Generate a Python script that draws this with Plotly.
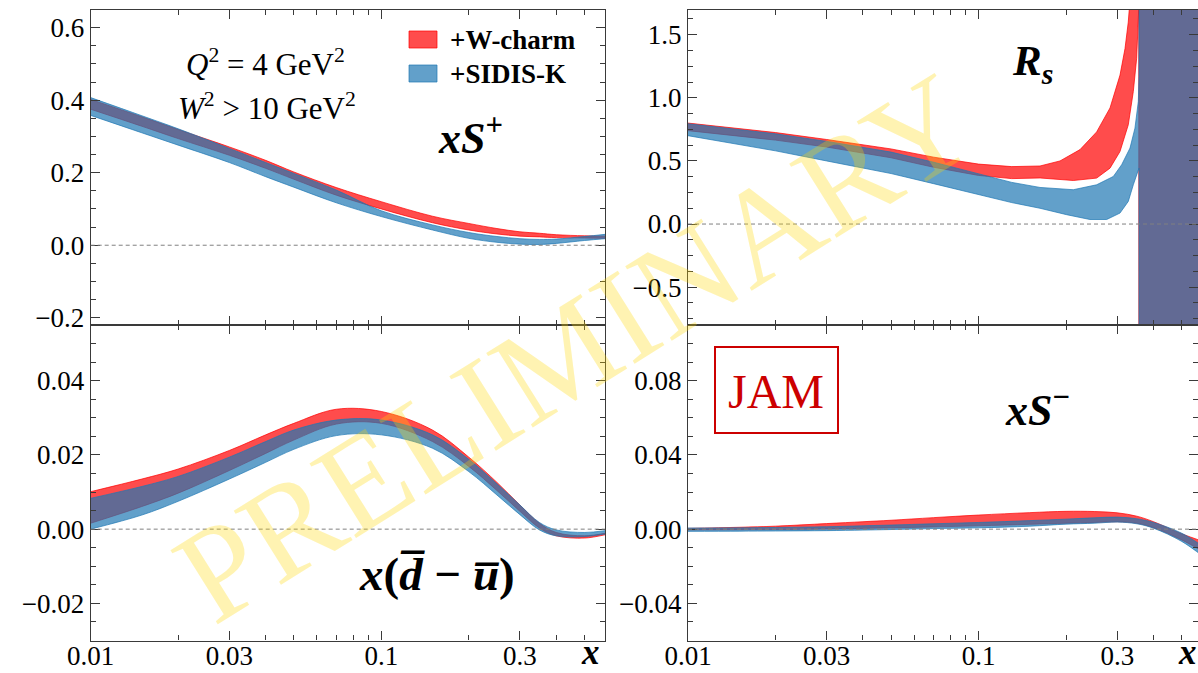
import plotly.graph_objects as go

W, H = 1198, 673

# ---------------- data ----------------
# common x grid for the smooth bands
x_grid = [0.01, 0.015, 0.02, 0.03, 0.04, 0.05, 0.07, 0.1, 0.15, 0.2,
          0.25, 0.3, 0.35, 0.4, 0.5, 0.59]

# x S+  (upper / lower edges of each band)
splus_wc_hi = [0.402, 0.354, 0.319, 0.271, 0.234, 0.202, 0.159, 0.120, 0.080, 0.060,
               0.046, 0.037, 0.033, 0.029, 0.026, 0.025]
splus_wc_lo = [0.375, 0.328, 0.294, 0.248, 0.212, 0.182, 0.138, 0.100, 0.062, 0.042,
               0.031, 0.025, 0.023, 0.021, 0.020, 0.019]
splus_k_hi = [0.407, 0.357, 0.321, 0.267, 0.228, 0.198, 0.152, 0.095, 0.056, 0.035,
              0.024, 0.018, 0.016, 0.017, 0.024, 0.030]
splus_k_lo = [0.358, 0.310, 0.276, 0.228, 0.189, 0.160, 0.117, 0.079, 0.042, 0.019,
              0.008, 0.003, 0.002, 0.005, 0.013, 0.018]

# x(dbar - ubar)
dbu_wc_hi = [0.0101, 0.0135, 0.0162, 0.0212, 0.0254, 0.0285, 0.0323, 0.0317, 0.0267, 0.0194,
             0.0126, 0.0065, 0.0016, -0.0009, -0.0018, -0.0011]
dbu_wc_lo = [0.0016, 0.0061, 0.0097, 0.0158, 0.0204, 0.0240, 0.0283, 0.0285, 0.0236, 0.0169,
             0.0104, 0.0048, 0.0003, -0.0018, -0.0024, -0.0015]
dbu_k_hi = [0.0083, 0.0115, 0.0142, 0.0194, 0.0236, 0.0267, 0.0294, 0.0294, 0.0254, 0.0188,
            0.0122, 0.0065, 0.0018, -0.0002, -0.0009, -0.0004]
dbu_k_lo = [0.0000, 0.0038, 0.0075, 0.0135, 0.0180, 0.0215, 0.0252, 0.0254, 0.0218, 0.0155,
            0.0092, 0.0039, -0.0002, -0.0018, -0.0020, -0.0013]

# x S-
sminus_wc_hi = [0.0004, 0.0010, 0.0016, 0.0030, 0.0040, 0.0048, 0.0062, 0.0076, 0.0089, 0.0096,
                0.0095, 0.0088, 0.0070, 0.0040, -0.0025, -0.0065]
sminus_wc_lo = [-0.0004, -0.0003, -0.0002, 0.0001, 0.0004, 0.0007, 0.0012, 0.0018, 0.0026, 0.0032,
                0.0036, 0.0040, 0.0032, 0.0008, -0.0058, -0.0120]
sminus_k_hi = [0.0006, 0.0007, 0.0009, 0.0013, 0.0018, 0.0022, 0.0029, 0.0036, 0.0046, 0.0054,
               0.0061, 0.0065, 0.0056, 0.0036, -0.0022, -0.0092]
sminus_k_lo = [-0.0012, -0.0011, -0.0010, -0.0008, -0.0005, -0.0002, 0.0003, 0.0007, 0.0016, 0.0027,
               0.0032, 0.0038, 0.0029, 0.0005, -0.0066, -0.0145]

# R_s : the ratio blows up near x ~ 0.355, so each edge carries its own x points
rs_wc_hi_x = [0.01, 0.02, 0.03, 0.05, 0.07, 0.1, 0.13, 0.1627, 0.1906, 0.2234, 0.2548, 0.2833,
              0.3066, 0.319, 0.3274, 0.3301, 0.335, 0.6]
rs_wc_hi = [0.80, 0.725, 0.67, 0.595, 0.53, 0.475, 0.455, 0.46, 0.50, 0.59, 0.73, 0.92,
            1.18, 1.39, 1.60, 1.70, 1.9, 1.9]
rs_wc_lo_x = [0.01, 0.02, 0.03, 0.05, 0.07, 0.1, 0.13, 0.1627, 0.2118, 0.2548, 0.2833, 0.3066,
              0.3274, 0.3407, 0.3499, 0.3535, 0.3558, 0.3560, 0.6]
rs_wc_lo = [0.74, 0.665, 0.61, 0.525, 0.45, 0.385, 0.36, 0.365, 0.345, 0.364, 0.443, 0.575,
            0.786, 1.05, 1.314, 1.55, 1.72, -1.0, -1.0]
rs_k_hi_x = [0.01, 0.02, 0.03, 0.05, 0.07, 0.1, 0.13, 0.1627, 0.2118, 0.2548, 0.2908, 0.3107,
             0.3319, 0.3452, 0.3545, 0.3564, 0.3566, 0.6]
rs_k_hi = [0.795, 0.715, 0.655, 0.57, 0.49, 0.395, 0.33, 0.29, 0.272, 0.311, 0.377, 0.470,
           0.602, 0.760, 0.971, 1.17, 1.9, 1.9]
rs_k_lo_x = [0.01, 0.02, 0.03, 0.05, 0.07, 0.1, 0.13, 0.1627, 0.201, 0.2416, 0.2759, 0.3066,
             0.3274, 0.3407, 0.3564, 0.3566, 0.6]
rs_k_lo = [0.70, 0.58, 0.50, 0.40, 0.32, 0.235, 0.17, 0.125, 0.074, 0.036, 0.036, 0.087,
           0.179, 0.311, 0.443, -1.0, -1.0]

# axis ticks
x_major = [0.01, 0.03, 0.1, 0.3]
x_major_text = ['0.01', '0.03', '0.1', '0.3']
x_minor = [0.02, 0.04, 0.05, 0.06, 0.07, 0.08, 0.09, 0.2, 0.4, 0.5]

series_names = ['+W-charm', '+SIDIS-K']

# ---------------- styling ----------------
RED = 'rgba(255,0,0,0.7)'
BLUE = 'rgba(31,119,180,0.7)'
AX = '#3a3a3a'
SERIF = 'Liberation Serif'


def fx(px):
    return px / W


def fy(py):
    return 1 - py / H


fig = go.Figure()


def band(xa, lo, hi, color, xref, yref, xlo=None, smooth=True):
    shape = 'spline' if smooth else 'linear'
    fig.add_trace(go.Scatter(x=xlo if xlo is not None else xa, y=lo, mode='lines',
                             line=dict(color=color, width=1, shape=shape),
                             xaxis=xref, yaxis=yref, showlegend=False, hoverinfo='skip'))
    fig.add_trace(go.Scatter(x=xa, y=hi, mode='lines', fill='tonexty', fillcolor=color,
                             line=dict(color=color, width=1, shape=shape),
                             xaxis=xref, yaxis=yref, showlegend=False, hoverinfo='skip'))


# top-left: xS+
band(x_grid, splus_wc_lo, splus_wc_hi, RED, 'x', 'y')
band(x_grid, splus_k_lo, splus_k_hi, BLUE, 'x', 'y')
# top-right: R_s
band(rs_wc_hi_x, rs_wc_lo, rs_wc_hi, RED, 'x2', 'y2', xlo=rs_wc_lo_x, smooth=False)
band(rs_k_hi_x, rs_k_lo, rs_k_hi, BLUE, 'x2', 'y2', xlo=rs_k_lo_x, smooth=False)
# bottom-left: x(dbar-ubar)
band(x_grid, dbu_wc_lo, dbu_wc_hi, RED, 'x3', 'y3')
band(x_grid, dbu_k_lo, dbu_k_hi, BLUE, 'x3', 'y3')
# bottom-right: xS-
band(x_grid, sminus_wc_lo, sminus_wc_hi, RED, 'x4', 'y4')
band(x_grid, sminus_k_lo, sminus_k_hi, BLUE, 'x4', 'y4')

tickfont = dict(family=SERIF, size=27, color='black')

LEFT_DOM = [fx(90.7), fx(605)]
RIGHT_DOM = [fx(688), 1.0]
TOP_DOM = [fy(325), fy(9.5)]
BOT_DOM = [fy(640.5), fy(325)]
DEC = 290.6  # pixels per decade


def xaxis(dom, anchor, labels, right_px):
    return dict(domain=dom, anchor=anchor, type='log', automargin=False,
                range=[-2, -2 + right_px / DEC],
                tickmode='array', tickvals=x_major, ticktext=x_major_text,
                showticklabels=labels, tickfont=tickfont, ticklabelstandoff=-9,
                ticks='inside', ticklen=9, tickwidth=1.2, tickcolor=AX,
                showline=True, linecolor=AX, linewidth=1.3, mirror='ticks',
                showgrid=False, zeroline=False,
                minor=dict(tickmode='array', tickvals=x_minor, ticks='inside',
                           ticklen=5, tickwidth=1, tickcolor=AX, showgrid=False))


def yaxis(dom, anchor, rng, vals, texts, mdt):
    return dict(domain=dom, anchor=anchor, range=rng, automargin=False,
                tickmode='array', tickvals=vals, ticktext=texts, tickfont=tickfont,
                ticks='inside', ticklen=9, tickwidth=1.2, tickcolor=AX,
                showline=True, linecolor=AX, linewidth=1.3, mirror='ticks',
                showgrid=False, zeroline=False,
                minor=dict(tick0=0, dtick=mdt, ticks='inside', ticklen=5, tickwidth=1,
                           tickcolor=AX, showgrid=False))


fig.update_layout(
    width=W, height=H, autosize=False,
    margin=dict(l=0, r=0, t=0, b=0, pad=0),
    font=dict(family=SERIF, color='black'),
    paper_bgcolor='white', plot_bgcolor='white',
    xaxis=xaxis(LEFT_DOM, 'y', False, 605 - 90.7),
    yaxis=yaxis(TOP_DOM, 'x', [-0.22, 0.65], [-0.2, 0, 0.2, 0.4, 0.6],
                ['\u22120.2', '0.0', '0.2', '0.4', '0.6'], 0.05),
    xaxis2=xaxis(RIGHT_DOM, 'y2', False, W - 688),
    yaxis2=yaxis(TOP_DOM, 'x2', [-0.8, 1.7], [-0.5, 0, 0.5, 1.0, 1.5],
                 ['\u22120.5', '0.0', '0.5', '1.0', '1.5'], 0.125),
    xaxis3=xaxis(LEFT_DOM, 'y3', True, 605 - 90.7),
    yaxis3=yaxis(BOT_DOM, 'x3', [-0.03, 0.055], [-0.02, 0, 0.02, 0.04],
                 ['\u22120.02', '0.00', '0.02', '0.04'], 0.005),
    xaxis4=xaxis(RIGHT_DOM, 'y4', True, W - 688),
    yaxis4=yaxis(BOT_DOM, 'x4', [-0.06, 0.11], [-0.04, 0, 0.04, 0.08],
                 ['\u22120.04', '0.00', '0.04', '0.08'], 0.01),
)

# dashed zero lines
shapes = []
for xr, yr in [('x', 'y'), ('x2', 'y2'), ('x3', 'y3'), ('x4', 'y4')]:
    shapes.append(dict(type='line', xref=xr + ' domain', yref=yr, x0=0, x1=1, y0=0, y1=0,
                       line=dict(color='#808080', width=1, dash='4px,3px'), layer='above'))

# legend patches
shapes.append(dict(type='rect', xref='paper', yref='paper', x0=fx(409), x1=fx(437),
                   y0=fy(48), y1=fy(31), fillcolor=RED, line=dict(color=RED, width=1)))
shapes.append(dict(type='rect', xref='paper', yref='paper', x0=fx(409), x1=fx(437),
                   y0=fy(82), y1=fy(65), fillcolor=BLUE, line=dict(color=BLUE, width=1)))
# JAM frame
shapes.append(dict(type='rect', xref='paper', yref='paper', x0=fx(715), x1=fx(838),
                   y0=fy(433), y1=fy(347), line=dict(color='#cc0000', width=2)))
fig.update_layout(shapes=shapes)

ann = []


def text(px, py, s, size, color='black', xanchor='center', yanchor='middle'):
    ann.append(dict(xref='paper', yref='paper', x=fx(px), y=fy(py), text=s, showarrow=False,
                    xanchor=xanchor, yanchor=yanchor, borderpad=0,
                    font=dict(family=SERIF, size=size, color=color)))


text(185, 62, '<i>Q</i><sup>2</sup> = 4 GeV<sup>2</sup>', 31, xanchor='left')
text(177, 106, '<i>W</i><sup>2</sup> &gt; 10 GeV<sup>2</sup>', 31, xanchor='left')
text(449, 40, '<b>' + series_names[0] + '</b>', 27, xanchor='left')
text(449, 74, '<b>' + series_names[1] + '</b>', 27, xanchor='left')
text(470, 136, '<b><i>xS</i></b><sup><b>+</b></sup>', 44)
text(1032, 64, '<b><i>R</i></b><sub><b><i>s</i></b></sub>', 43)
text(437, 574, '<b><i>x</i>(<i>d\u0305</i> \u2212 <i>u\u0305</i>)</b>', 47)
text(1037, 407, '<b><i>xS</i></b><sup><b>\u2212</b></sup>', 44)
text(776, 391, 'JAM', 48, color='#cc0000')
# x-axis titles, sitting on the bottom edge of the page
text(590, 673, '<b><i>x</i></b>', 35, yanchor='bottom')
text(1187, 673, '<b><i>x</i></b>', 35, yanchor='bottom')

# watermark
ann.append(dict(xref='paper', yref='paper', x=fx(575), y=fy(348), text='PRELIMINARY',
                showarrow=False, xanchor='center', yanchor='middle', textangle=-32,
                font=dict(family=SERIF, size=134, color='rgba(255,215,0,0.3)')))
fig.update_layout(annotations=ann)

fig.write_html('out.html')
